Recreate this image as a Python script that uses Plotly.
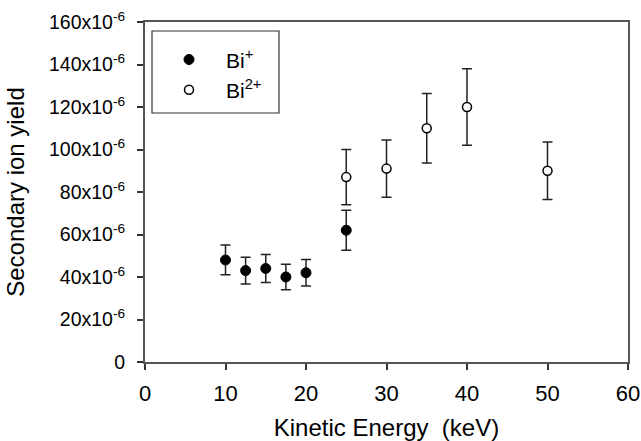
import plotly.graph_objects as go

# Data (yield values in units of 1e-6)
x_bi1 = [10, 12.5, 15, 17.5, 20, 25]
y_bi1 = [48, 43, 44, 40, 42, 62]
e_bi1 = [7, 6.3, 6.6, 6, 6.2, 9.4]

x_bi2 = [25, 30, 35, 40, 50]
y_bi2 = [87, 91, 110, 120, 90]
e_bi2 = [13, 13.5, 16.4, 18, 13.5]

ytick_vals = [0, 20, 40, 60, 80, 100, 120, 140, 160]
ytick_text = ["0"] + [f"{v}x10<sup>-6</sup>" for v in ytick_vals[1:]]
xtick_vals = [0, 10, 20, 30, 40, 50, 60]

scale = 1e-6
font = "Liberation Sans"

fig = go.Figure()
fig.add_trace(go.Scatter(
    x=x_bi1, y=[v * scale for v in y_bi1], mode="markers", name="Bi<sup>+</sup>",
    marker=dict(symbol="circle", size=10, color="black", line=dict(color="black", width=1)),
    error_y=dict(type="data", array=[v * scale for v in e_bi1], color="#222", thickness=1.5, width=5),
))
fig.add_trace(go.Scatter(
    x=x_bi2, y=[v * scale for v in y_bi2], mode="markers", name="Bi<sup>2+</sup>",
    marker=dict(symbol="circle", size=9, color="white", line=dict(color="black", width=1.5)),
    error_y=dict(type="data", array=[v * scale for v in e_bi2], color="#222", thickness=1.5, width=5),
))

fig.update_layout(
    width=641, height=441,
    margin=dict(l=145, r=13, t=22, b=79),
    paper_bgcolor="white", plot_bgcolor="white",
    font=dict(family=font, size=19, color="black"),
    showlegend=True,
    legend=dict(
        x=0.0145, y=0.949, xanchor="left", yanchor="top",
        borderwidth=0, bgcolor="rgba(0,0,0,0)",
        font=dict(size=21), itemwidth=64, tracegroupgap=0,
    ),
    shapes=[dict(
        type="rect", xref="paper", yref="paper",
        x0=0.0145, x1=0.2774, y0=0.7324, y1=0.9735,
        line=dict(color="#333", width=1.2), fillcolor="rgba(0,0,0,0)", layer="above",
    )],
)
fig.update_xaxes(
    range=[0, 60], tickvals=xtick_vals, ticks="outside", ticklen=6, tickwidth=1.5,
    tickcolor="#333", showline=True, linecolor="#555", linewidth=2, mirror=True,
    showgrid=False, zeroline=False, automargin=False,
    tickfont=dict(size=22), ticklabelstandoff=5,
    title=dict(text="Kinetic Energy  (keV)", font=dict(size=24), standoff=16),
)
fig.update_yaxes(
    range=[0, 160 * scale], tickvals=[v * scale for v in ytick_vals], ticktext=ytick_text,
    ticks="outside", ticklen=6, tickwidth=1.5, tickcolor="#333",
    showline=True, linecolor="#555", linewidth=2, mirror=True,
    showgrid=False, zeroline=False, automargin=False,
    tickfont=dict(size=19.5), ticklabelstandoff=8,
    title=dict(text="Secondary ion yield", font=dict(size=24), standoff=18),
)

fig.write_html(
    "out.html",
    config={"displayModeBar": False},
    post_script="document.body.style.margin='0';document.body.style.padding='0';",
)
